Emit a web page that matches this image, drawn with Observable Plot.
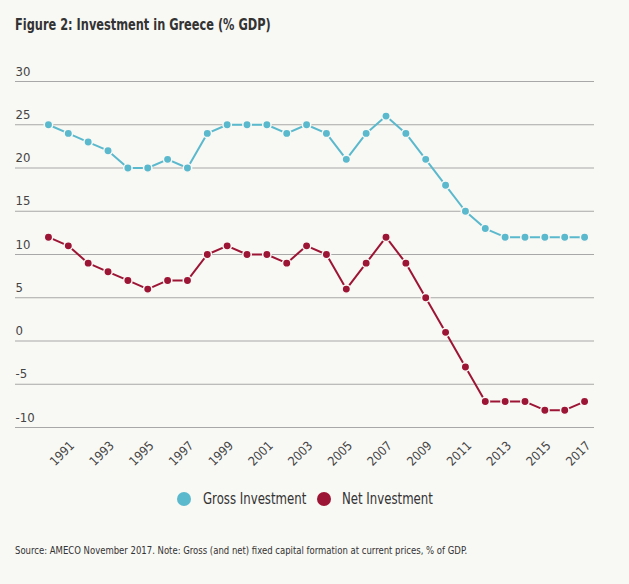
<!DOCTYPE html>
<html>
<head>
<meta charset="utf-8">
<script src="https://cdn.jsdelivr.net/npm/d3@7"></script>
<script src="https://cdn.jsdelivr.net/npm/@observablehq/plot@0.6"></script>
<style>
  html, body { margin: 0; padding: 0; background: #f8f8f4; }
  body { width: 629px; height: 584px; overflow: hidden; font-family: "DejaVu Sans Condensed", "DejaVu Sans", sans-serif; color: #333; }
  #title { height: 55px; box-sizing: border-box; padding: 14px 0 0 15px; font-size: 15.5px; line-height: 22px; font-weight: bold; color: #333; }
  #title span { display: inline-block; transform: scaleX(0.815); transform-origin: 0 50%; white-space: nowrap; }
  #chart svg { display: block; }
  #legend { position: relative; margin-top: 12px; height: 24px; width: 629px; font-size: 15px; color: #333; }
  #legend .sw { position: absolute; top: 5px; width: 14px; height: 14px; border-radius: 50%; }
  #legend .lab { position: absolute; top: 0; line-height: 24px; white-space: nowrap; transform: scaleX(0.87); transform-origin: 0 50%; }
  #caption { margin-top: 32px; padding-left: 15px; font-size: 10.5px; line-height: 14px; color: #333; }
  #caption span { display: inline-block; transform: scaleX(0.9); transform-origin: 0 50%; white-space: nowrap; }
</style>
</head>
<body>
<div id="title"><span>Figure 2: Investment in Greece (% GDP)</span></div>
<div id="chart"></div>
<div id="legend"></div>
<div id="caption"><span>Source: AMECO November 2017. Note: Gross (and net) fixed capital formation at current prices, % of GDP.</span></div>
<script>
const years = d3.range(1990, 2018);
const gross = [25, 24, 23, 22, 20, 20, 21, 20, 24, 25, 25, 25, 24, 25, 24, 21, 24, 26, 24, 21, 18, 15, 13, 12, 12, 12, 12, 12];
const net   = [12, 11, 9, 8, 7, 6, 7, 7, 10, 11, 10, 10, 9, 11, 10, 6, 9, 12, 9, 5, 1, -3, -7, -7, -7, -8, -8, -7];
const seriesNames = ["Gross Investment", "Net Investment"];
const seriesColors = ["#5bb9cd", "#9d1535"];
const yTicks = [-10, -5, 0, 5, 10, 15, 20, 25, 30];
const xTickYears = [1991, 1993, 1995, 1997, 1999, 2001, 2003, 2005, 2007, 2009, 2011, 2013, 2015, 2017];

const data = [];
years.forEach((y, i) => {
  data.push({year: y, value: gross[i], series: seriesNames[0]});
  data.push({year: y, value: net[i], series: seriesNames[1]});
});

const bg = "#f8f8f4";
const plot = Plot.plot({
  width: 629,
  height: 420,
  marginTop: 26,
  marginBottom: 48,
  marginLeft: 15,
  marginRight: 35,
  style: {background: "transparent", fontFamily: "'DejaVu Sans Condensed', 'DejaVu Sans', sans-serif"},
  x: {domain: [1988.34, 2017.5], axis: null},
  y: {domain: [-10, 30], axis: null},
  color: {domain: seriesNames, range: seriesColors},
  marks: [
    Plot.ruleY(yTicks, {stroke: "#a8a8a8", strokeWidth: 1}),
    Plot.text(yTicks, {y: d => d, text: d => String(d), frameAnchor: "left", textAnchor: "start", dy: -10, fontSize: 13, fill: "#444"}),
    Plot.text(xTickYears, {x: d => d, text: d => String(d), frameAnchor: "bottom", textAnchor: "end", lineAnchor: "middle", rotate: -45, dx: 4, dy: 16, fontSize: 12.5, fill: "#444"}),
    Plot.line(data, {x: "year", y: "value", z: "series", stroke: "series", strokeWidth: 2}),
    Plot.dot(data, {x: "year", y: "value", fill: "series", r: 4.2, stroke: bg, strokeWidth: 1.5})
  ]
});
document.getElementById("chart").appendChild(plot);

const legend = document.getElementById("legend");
const swX = [177, 317];
const labX = [203, 342];
seriesNames.forEach((name, i) => {
  const sw = document.createElement("span");
  sw.className = "sw";
  sw.style.background = seriesColors[i];
  sw.style.left = swX[i] + "px";
  legend.appendChild(sw);
  const lab = document.createElement("span");
  lab.className = "lab";
  lab.style.left = labX[i] + "px";
  lab.textContent = name;
  legend.appendChild(lab);
});
</script>
</body>
</html>
